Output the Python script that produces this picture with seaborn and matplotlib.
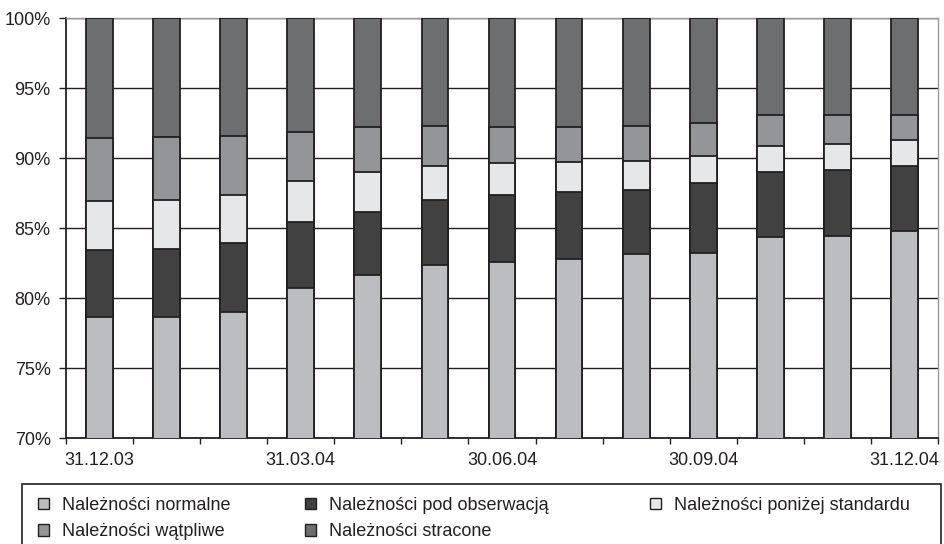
import matplotlib
matplotlib.use("Agg")
import matplotlib.pyplot as plt
from matplotlib.patches import Patch, Rectangle
import numpy as np
import pandas as pd
import seaborn as sns

# Month-end reporting dates
dates = ["31.12.03", "31.01.04", "29.02.04", "31.03.04", "30.04.04", "31.05.04",
         "30.06.04", "31.07.04", "31.08.04", "30.09.04", "31.10.04", "30.11.04",
         "31.12.04"]
shown_labels = ["31.12.03", "31.03.04", "30.06.04", "30.09.04", "31.12.04"]

# Share of each receivables class in the portfolio (%)
normalne = [78.62, 78.66, 79.02, 80.69, 81.64, 82.36, 82.55, 82.79, 83.12, 83.24, 84.33, 84.40, 84.81]
pod_obserwacja = [4.81, 4.82, 4.88, 4.71, 4.52, 4.62, 4.78, 4.78, 4.62, 5.00, 4.69, 4.74, 4.62]
ponizej_standardu = [3.50, 3.52, 3.46, 2.96, 2.82, 2.45, 2.34, 2.12, 2.05, 1.93, 1.84, 1.86, 1.88]
watpliwe = [4.52, 4.50, 4.24, 3.47, 3.21, 2.86, 2.57, 2.50, 2.52, 2.35, 2.21, 2.07, 1.76]
stracone = [8.55, 8.50, 8.40, 8.17, 7.81, 7.71, 7.76, 7.81, 7.69, 7.48, 6.93, 6.93, 6.93]

series_names = ["Należności normalne", "Należności pod obserwacją",
                "Należności poniżej standardu", "Należności wątpliwe",
                "Należności stracone"]
series_values = [normalne, pod_obserwacja, ponizej_standardu, watpliwe, stracone]
series_colors = ["#bcbdc0", "#414141", "#e6e7e8", "#939598", "#6d6e70"]
edge = "#231f20"

sns.set_style("white")
plt.rcParams["font.family"] = ["Liberation Sans", "DejaVu Sans"]
plt.rcParams["font.size"] = 13

fig = plt.figure(figsize=(9.45, 5.44), dpi=100)
W, H = 945, 544
ax = fig.add_axes([66 / W, 1 - 438 / H, (938 - 66) / W, (438 - 18) / H])

df = pd.DataFrame({"date": dates})
cum = np.zeros(len(dates))
for name, vals in zip(series_names, series_values):
    cum = cum + np.array(vals)
    df[name] = cum

# Stacked bars: draw cumulative totals from the top class down
for name, color in reversed(list(zip(series_names, series_colors))):
    sns.barplot(data=df, x="date", y=name, order=dates, color=color,
                width=0.4, edgecolor=edge, linewidth=1.3, saturation=1,
                ax=ax, zorder=3)

ax.set_ylim(70, 100)
ax.set_xlim(-0.5, len(dates) - 0.5)
ax.set_yticks(np.arange(70, 101, 5))
ax.set_yticklabels([f"{v}%" for v in range(70, 101, 5)])
ax.yaxis.grid(True, color=edge, linewidth=1.0, zorder=0)
ax.set_axisbelow(True)

# tick marks between categories, labels under every third bar
ax.set_xticks(np.arange(-0.5, len(dates), 1.0))
ax.set_xticklabels([])
label_pos = [dates.index(d) for d in shown_labels]
ax.set_xticks(label_pos, minor=True)
ax.set_xticklabels(shown_labels, minor=True)
ax.tick_params(axis="x", which="major", direction="out", length=4, width=1, color=edge, bottom=True)
ax.tick_params(axis="x", which="minor", length=0, pad=10, labelsize=13, labelcolor="#231f20")
ax.tick_params(axis="y", direction="out", length=5, width=1, color=edge, pad=6,
               labelsize=13, labelcolor="#231f20", left=True)
ax.set_xlabel("")
ax.set_ylabel("")

for side in ("left", "bottom"):
    ax.spines[side].set_color(edge)
    ax.spines[side].set_linewidth(1.3)
for side in ("top", "right"):
    ax.spines[side].set_visible(True)
    ax.spines[side].set_color("#9a9a9a")
    ax.spines[side].set_linewidth(1.0)

# Legend frame
fig.patches.append(Rectangle((22 / W, -0.05), (941 - 22) / W, (1 - 484 / H) + 0.05,
                             transform=fig.transFigure, fill=False,
                             edgecolor=edge, linewidth=1.2))

handles = [Patch(facecolor=c, edgecolor=edge, linewidth=1.0) for c in series_colors]
columns = [([0, 3], 38), ([1, 4], 305), ([2], 650)]
for idx, xpix in columns:
    fig.legend([handles[i] for i in idx], [series_names[i] for i in idx],
               loc="upper left", bbox_to_anchor=(xpix / W, 1 - 497 / H),
               frameon=False, fontsize=13, borderpad=0, borderaxespad=0,
               handlelength=0.6, handleheight=0.6, handletextpad=0.75,
               labelspacing=0.52, labelcolor="#231f20")

fig.savefig("out.png", dpi=100)
